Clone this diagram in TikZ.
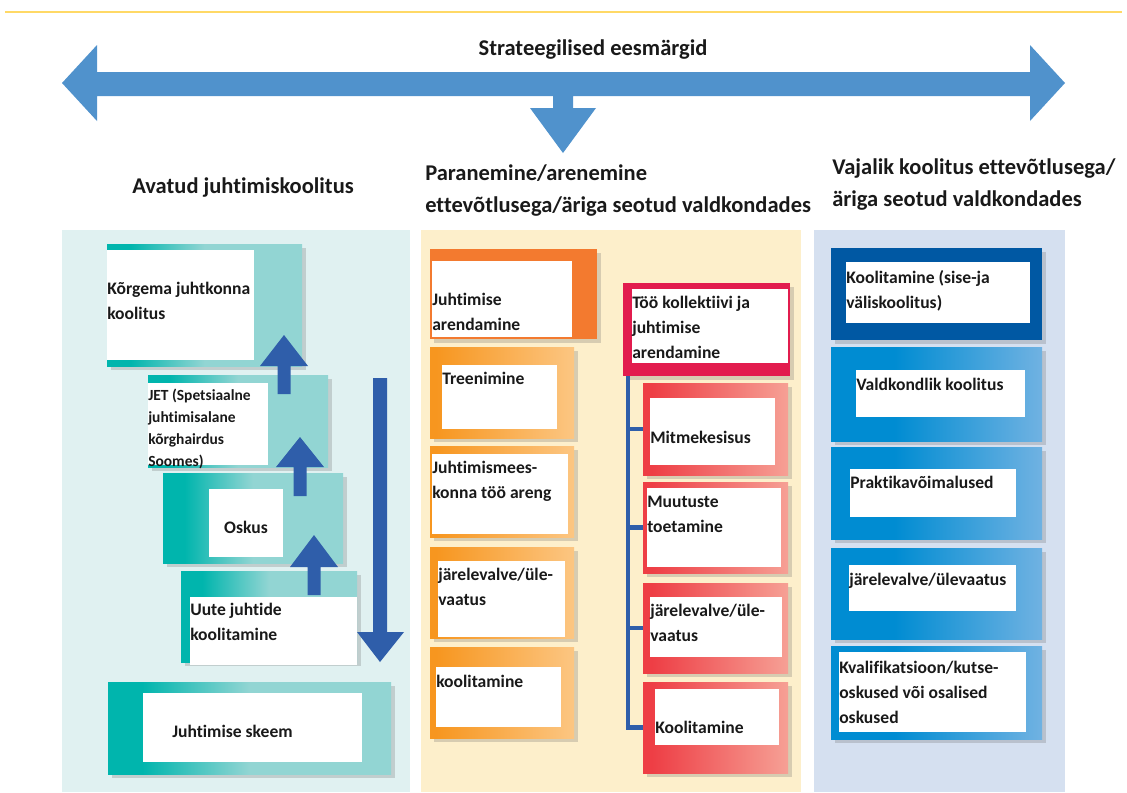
\documentclass[tikz,border=0pt]{standalone}
\usepackage{fontspec}
\setmainfont{Carlito}[Ligatures={NoCommon,NoContextual}]
\usepackage{xcolor}
\usetikzlibrary{positioning,calc,fit,shadows}

\definecolor{rulegold}{RGB}{255,217,102}
\definecolor{goalblue}{RGB}{80,146,204}
\definecolor{bgteal}{RGB}{224,241,241}
\definecolor{bgcream}{RGB}{253,239,203}
\definecolor{bgblue}{RGB}{213,224,240}
\definecolor{tealD}{RGB}{0,181,173}
\definecolor{tealL}{RGB}{146,213,211}
\definecolor{stepblue}{RGB}{47,94,170}
\definecolor{oranD}{RGB}{247,150,31}
\definecolor{oranL}{RGB}{252,198,130}
\definecolor{oranS}{RGB}{243,122,47}
\definecolor{crimson}{RGB}{226,28,78}
\definecolor{redD}{RGB}{238,62,69}
\definecolor{redL}{RGB}{246,160,149}
\definecolor{navy}{RGB}{0,88,163}
\definecolor{bluD}{RGB}{0,140,210}
\definecolor{bluL}{RGB}{112,178,226}

% path box maps to 25bp..75bp
\pgfdeclarehorizontalshading{tealfade}{100bp}{color(0bp)=(tealD); color(31bp)=(tealD); color(50bp)=(tealL); color(100bp)=(tealL)}
\pgfdeclarehorizontalshading{oranfade}{100bp}{color(0bp)=(oranD); color(27bp)=(oranD); color(75bp)=(oranL); color(100bp)=(oranL)}
\pgfdeclarehorizontalshading{redfade}{100bp}{color(0bp)=(redD); color(28bp)=(redD); color(75bp)=(redL); color(100bp)=(redL)}
\pgfdeclarehorizontalshading{blufade}{100bp}{color(0bp)=(bluD); color(40bp)=(bluD); color(75bp)=(bluL); color(100bp)=(bluL)}

\tikzset{
    shade box/.style={inner sep=0pt, draw=none,
        drop shadow={shadow xshift=2.5pt, shadow yshift=-2.5pt, opacity=0.25, fill=black!60}},
    tealbox/.style={shade box, shading=tealfade},
    oranbox/.style={shade box, shading=oranfade},
    oranhead/.style={shade box, fill=oranS},
    redbox/.style={shade box, shading=redfade},
    redhead/.style={shade box, fill=crimson},
    blubox/.style={shade box, shading=blufade},
    bluhead/.style={shade box, fill=navy},
    inbox/.style={fill=white, inner sep=0pt},
    txt/.style={anchor=north west, inner sep=0pt, align=left, text=black!90,
        font=\bfseries\fontsize{12.5}{17.7}\selectfont},
    onetxt/.style={txt, anchor=base west},
    head/.style={inner sep=0pt, align=left, text=black!90,
        font=\bfseries\fontsize{16}{23.4}\selectfont},
    treeline/.style={draw=stepblue, line width=3pt},
}

\begin{document}
\begin{tikzpicture}[x=0.025cm, y=-0.025cm]
    \useasboundingbox (0,0) rectangle (1127,792);

    % Top rule
    \draw[rulegold, line width=0.8pt] (5,12) -- (1122,12);

    % Strategic goals arrow
    \fill[goalblue] (62,83) -- (97,45) -- (97,72) -- (1030,72) -- (1030,45) -- (1065,83)
        -- (1030,121) -- (1030,96) -- (573,96) -- (573,108) -- (596,108) -- (563,153)
        -- (530,108) -- (553,108) -- (553,96) -- (97,96) -- (97,121) -- cycle;
    \node[head, anchor=base] (goal) at (593,55) {Strateegilised eesmärgid};

    % Column backgrounds
    \fill[bgteal] (62,230) rectangle (410,792);
    \fill[bgcream] (421,230) rectangle (801,792);
    \fill[bgblue] (814,230) rectangle (1065,792);

    % Column headings
    \node[head, anchor=base] (colA) at (243,193) {Avatud juhtimiskoolitus};
    \node[head, anchor=north west] (colB) at (425,164) {Paranemine/arenemine\\ettevõtlusega/äriga seotud valdkondades};
    \node[head, anchor=north west] (colC) at (832,158) {Vajalik koolitus ettevõtlusega/\\äriga seotud valdkondades};

    % Left column: steps
    \node[tealbox, fit={(107,244) (302,366)}] (kor) {};
    \node[inbox, fit={(107,250) (254,360)}] (korIn) {};
    \node[txt] (korT) at (107,282) {Kõrgema juhtkonna\\koolitus};

    \node[tealbox, fit={(148,375) (328,467)}] (jet) {};
    \node[inbox, fit={(148,383) (268,465)}] (jetIn) {};
    \node[txt, font=\bfseries\fontsize{11}{15.6}\selectfont] (jetT) at (148,389) {JET (Spetsiaalne\\juhtimisalane\\kõrghairdus\\Soomes)};

    \node[tealbox, fit={(163,473) (343,563)}] (osk) {};
    \node[inbox, fit={(209,489) (283,557)}] (oskIn) {};
    \node[onetxt, anchor=base] (oskT) at (246,533) {Oskus};

    \node[tealbox, fit={(181,571) (357,662)}] (uut) {};
    \node[inbox, fit={(190,597) (357,665)}] (uutIn) {};
    \node[txt] (uutT) at (190,603) {Uute juhtide\\koolitamine};

    \node[tealbox, fit={(108,682) (391,774)}] (ske) {};
    \node[inbox, fit={(143,693) (362,762)}] (skeIn) {};
    \node[onetxt] (skeT) at (172,737) {Juhtimise skeem};

    % Step arrows
    \foreach \x/\yt/\yb/\ye in {284/335/366/394, 300/437/467/496, 314/535/567/595} {
        \fill[stepblue] (\x,\yt) -- (\x+24,\yb) -- (\x+6.5,\yb) -- (\x+6.5,\ye)
            -- (\x-6.5,\ye) -- (\x-6.5,\yb) -- (\x-24,\yb) -- cycle;
    }
    \fill[stepblue] (373,378) -- (387,378) -- (387,632) -- (404,632) -- (380,662)
        -- (357,632) -- (373,632) -- cycle;

    % Middle column: left stack
    \node[oranhead, fit={(430,249) (597,339)}] (jar) {};
    \node[inbox, fit={(432,261) (572,337)}] (jarIn) {};
    \node[txt] (jarT) at (432,293) {Juhtimise\\arendamine};

    \node[oranbox, fit={(430,347) (574,438)}] (tre) {};
    \node[inbox, fit={(442,365) (557,429)}] (treIn) {};
    \node[onetxt] (treT) at (442,384) {Treenimine};

    \node[oranbox, fit={(430,446) (574,537)}] (jmk) {};
    \node[inbox, fit={(432,454) (568,534)}] (jmkIn) {};
    \node[txt] (jmkT) at (432,461) {Juhtimismees-\\konna töö areng};

    \node[oranbox, fit={(430,547) (574,638)}] (jv1) {};
    \node[inbox, fit={(438,561) (565,637)}] (jv1In) {};
    \node[txt] (jv1T) at (438,568) {järelevalve/üle-\\vaatus};

    \node[oranbox, fit={(430,647) (574,738)}] (koo1) {};
    \node[inbox, fit={(436,667) (561,727)}] (koo1In) {};
    \node[onetxt] (koo1T) at (436,687) {koolitamine};

    % Middle column: team tree
    \node[redhead, fit={(623,283) (790,376)}] (tkj) {};
    \node[inbox, fit={(632,289) (788,363)}] (tkjIn) {};
    \node[txt] (tkjT) at (632,296) {Töö kollektiivi ja\\juhtimise\\arendamine};

    \node[redbox, fit={(643,383) (788,475)}] (mit) {};
    \node[inbox, fit={(650,398) (775,465)}] (mitIn) {};
    \node[onetxt] (mitT) at (650,443) {Mitmekesisus};

    \node[redbox, fit={(643,482) (788,573)}] (muu) {};
    \node[inbox, fit={(647,488) (781,567)}] (muuIn) {};
    \node[txt] (muuT) at (647,496) {Muutuste\\toetamine};

    \node[redbox, fit={(643,583) (788,673)}] (jv2) {};
    \node[inbox, fit={(650,597) (782,657)}] (jv2In) {};
    \node[txt] (jv2T) at (650,604) {järelevalve/üle-\\vaatus};

    \node[redbox, fit={(643,682) (788,773)}] (koo2) {};
    \node[inbox, fit={(655,689) (779,745)}] (koo2In) {};
    \node[onetxt] (koo2T) at (655,733) {Koolitamine};

    \foreach \child in {mit, muu, jv2, koo2}
        \draw[treeline] ($(tkj.south west)+(5,0)$) |- (\child.west);

    % Right column
    \node[bluhead, fit={(831,248) (1042,340)}] (sis) {};
    \node[inbox, fit={(846,262) (1030,323)}] (sisIn) {};
    \node[txt] (sisT) at (846,270) {Koolitamine (sise-ja\\väliskoolitus)};

    \node[blubox, fit={(831,347) (1042,441)}] (val) {};
    \node[inbox, fit={(856,370) (1025,417)}] (valIn) {};
    \node[onetxt] (valT) at (856,390) {Valdkondlik koolitus};

    \node[blubox, fit={(831,447) (1042,539)}] (pra) {};
    \node[inbox, fit={(850,469) (1016,517)}] (praIn) {};
    \node[onetxt] (praT) at (850,488) {Praktikavõimalused};

    \node[blubox, fit={(831,548) (1042,639)}] (jv3) {};
    \node[inbox, fit={(849,565) (1016,611)}] (jv3In) {};
    \node[onetxt] (jv3T) at (849,585) {järelevalve/ülevaatus};

    \node[blubox, fit={(831,646) (1042,739)}] (kva) {};
    \node[inbox, fit={(839,652) (1026,732)}] (kvaIn) {};
    \node[txt] (kvaT) at (839,661) {Kvalifikatsioon/kutse-\\oskused või osalised\\oskused};
\end{tikzpicture}
\end{document}
